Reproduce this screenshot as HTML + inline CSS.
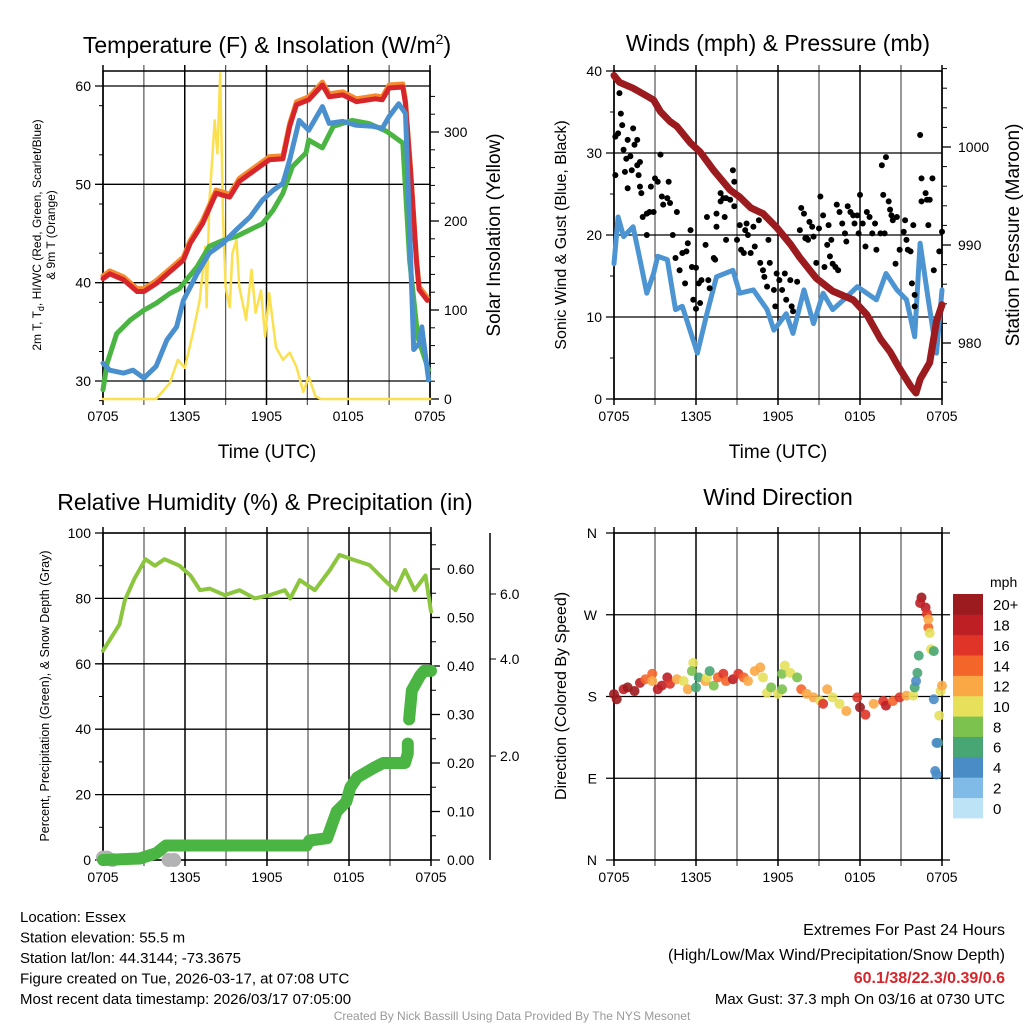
<!DOCTYPE html>
<html><head><meta charset="utf-8"><style>
html,body{margin:0;padding:0;background:#fff;}
svg{display:block;font-family:"Liberation Sans",Arial,sans-serif;}
</style></head><body>
<svg id="chart" width="1024" height="1024" viewBox="0 0 1024 1024" xmlns="http://www.w3.org/2000/svg"></svg>
<script>
// ---------- DATA ----------
const tempHours=[0,0.5,1.5,2.5,3,3.9,4.9,5.9,6.4,7.3,8.3,9.3,10,11.2,12.2,13.2,13.7,14.2,15.1,16.1,16.6,17.6,18.6,20,20.5,21,22,22.2,22.6,23,23.2,23.8];
const tempVals=[40.4,40.9,40.3,39.1,39.1,39.9,41.1,42.3,44,46,49.1,48.7,50.3,51.5,52.5,52.6,55.9,58.1,58.6,60.1,58.9,59.1,58.4,58.7,58.6,59.8,59.9,58.2,50.8,42.3,39.3,38.2];
const dewHours=[0,0.3,1,2,3,3.9,4.9,5.6,6.9,7.8,8.8,9.8,10.8,11.7,12.5,13.2,13.9,14.9,15.1,16.1,16.9,18.3,19.5,20.8,22,22.5,23.1,23.9];
const dewVals=[29.1,31.8,34.8,36.2,37.2,37.9,38.9,39.4,41.6,43.7,44.3,44.7,45.4,46,47.4,49.1,51.8,53.2,54.5,53.7,55.9,56.5,56.2,55.4,54.2,42.3,34.5,31.1];
const hiwcHours=[0,0.5,1.5,2.2,3,3.9,4.7,5.4,5.9,6.9,7.8,8.8,9.8,10.8,11.7,12.5,13.2,13.7,14.4,15.1,16.1,16.6,17.6,18.6,19.8,20.5,21,21.7,22.2,22.5,22.8,23.2,23.4,23.9];
const hiwcVals=[31.8,31.1,30.8,31.1,30.3,31.5,34.2,35.5,38.2,40.9,43,44,45.4,46.7,48.4,49.4,50.1,52.5,56.5,55.5,57.9,56.2,56.4,56,55.9,55.7,56.9,58.2,57.2,45.7,33.2,33.8,35.5,30.1];
const solarHours=[0,3.9,4.9,5.5,6,6.6,7.1,7.5,7.6,7.8,8.2,8.4,8.6,8.8,9.0,9.3,9.5,9.8,10,10.5,10.9,11.2,11.6,11.9,12.2,12.7,13.2,13.7,14.2,14.7,15.1,15.6,16,24];
const solarVals=[0,0,18,44,35,74,111,171,103,220,313,276,366,209,126,103,164,179,126,89,145,97,122,70,119,58,44,52,36,8,25,3,0,0];
const tempTicks=[30,40,50,60];
const solarTicks=[0,100,200,300];
const timeLabels=["0705","1305","1905","0105","0705"];

const windHours=[0,0.3,0.7,1.4,1.9,2.4,2.9,3.2,3.9,4.5,5,6.1,6.8,7.5,8.7,9.2,10.2,11.2,11.7,12.6,13.1,13.9,14.6,15.3,16,16.8,17.8,18.5,19.2,19.9,20.7,21.4,22,22.4,23,23.6,24];
const windVals=[16.5,22.2,19.8,21,17,12.9,15.3,17.4,17,10.9,11.3,5.6,10.4,14.9,15.7,12.9,13.3,10.9,8.4,10.4,8,13.3,9.2,12.9,10.9,12.1,13.7,12.9,12.1,15.3,13.3,12.1,7.6,19,12.1,5.6,13.3];
const presHours=[0,0.4,1.4,2.4,2.9,3.4,4.1,4.6,5.6,6.3,7.3,8.5,9.2,10,10.9,11.9,12.9,13.6,14.8,16,17.5,18.5,19.5,20.2,20.9,21.7,22.1,22.4,23.1,23.6,24];
const presVals=[1007.3,1006.6,1006,1005.2,1004.8,1003.6,1002.6,1002.1,1000.4,999.5,997.6,995.6,994.9,993.8,993.2,991.8,990.1,988.7,986.6,985.3,984.4,982.9,980.4,979.1,977.4,975.6,974.9,976.3,978,982.2,983.9];
const gustHours=[0.1,0.1,0.3,0.4,0.5,0.6,0.7,0.8,0.9,1,1.2,1,1.3,1.4,1.5,1.7,1.7,1.8,1.9,1.9,2,2.1,2.4,2.4,2.6,2.7,2.9,3,3.2,3.4,3.5,3.6,3.9,4,4.1,4.3,4.6,4.5,4.8,5,5.2,5.3,5.4,5.6,5.7,5.8,6,6,6.2,6.3,6.4,6.7,6.8,6.9,7,7.3,7.4,7.5,7.5,7.8,7.8,8,8.1,8.2,8.2,8.5,8.7,8.8,8.8,9,9.2,9.3,9.5,9.6,9.7,9.8,10,10.2,10.3,10.6,10.7,10.9,11,11.2,11.4,11.3,11.7,11.8,11.9,12.1,12.3,12.5,12.6,12.9,13,13.1,13.4,13.6,13.7,13.9,14,14.1,14.2,14.3,14.5,14.6,14.8,15,15.1,15.3,15.4,15.6,15.7,15.8,15.9,16,16.2,16.3,16.4,16.5,16.7,16.9,17,17.1,17.3,17.5,17.6,17.8,17.9,18,18.2,18.4,18.5,18.7,18.9,19.1,19.2,19.5,19.6,19.7,19.8,19.9,20.1,20.2,20.3,20.4,20.6,20.7,20.9,21.2,21.3,21.4,21.5,21.7,21.8,21.9,22,22,22.4,22.5,22.5,22.8,22.9,23,23.1,23.3,23.4,23.8,24];
const gustVals=[32,27.3,32.4,37.3,34.8,33.4,30.4,27.7,29.3,31.6,29.6,25.7,27.9,33,31,31.6,28.5,27.3,28.9,25.9,25.1,22.2,22.6,20,22.8,25.9,22.8,26.9,26.5,29.8,24.7,23.7,24.5,26.5,23.9,20,22.8,17.2,15.7,17.8,14.1,18,19,20.6,16.1,12.1,11,16,14.1,11.7,14.5,18.8,22.2,14.5,13.5,17.2,17,21,22.6,24.1,25.1,24.5,22.2,19.4,24.5,24.3,27.9,26.5,23.5,19.4,21.2,18.2,17.8,20.6,21.4,20,17.8,21,18.6,21.8,16.6,15.7,14.9,13.7,16.6,19.4,13.3,11.3,15.3,14.5,13.3,15.3,12.1,14.5,11.3,10.7,14.3,20.6,23.3,22.6,19.6,19.6,19.4,21.6,21,19.8,16.6,20.8,24.7,22.4,16.1,18.8,21.2,17.4,19.4,16.5,16.1,23.7,15.7,22.8,21.4,20.2,19.2,23.5,22.8,22.4,21.4,22.4,20.2,24.9,21.4,18.6,22.8,22.2,20.2,21.4,18.2,20.2,28.5,24.9,20.2,29.5,24.1,23.1,22.4,21.8,16.5,22.2,18.2,20.4,21.8,19.4,18.2,18,14.1,21.2,12.7,11.3,32.2,26.9,24.1,25.1,24.3,21.2,24.3,26.9,15.7,18,20.4];
const windTicks=[0,10,20,30,40];
const presTicks=[980,990,1000];

const rhHours=[0,1.2,1.6,2.3,3.1,3.8,4.5,5.6,6.4,7.1,7.8,8.9,10,11.1,12.2,13.3,13.7,14.4,15.5,16.6,17.3,18.4,19.5,20.6,21.4,22.1,22.8,23.6,24];
const rhVals=[64,72,79.5,86,92,90,92,90,87,82.5,83,81,82.5,80,81,82.5,80,85.6,82.5,88.7,93.3,91.7,90.2,85.6,82.5,88.7,82.5,87,76];
const precipHours=[0,2.7,3.9,4.6,14.9,15.1,16.4,17.1,17.8,18.1,18.6,19.8,20.5,22.1,22.3,22.3];
const precipVals=[0,0.003,0.014,0.03,0.03,0.04,0.045,0.1,0.12,0.15,0.17,0.19,0.2,0.2,0.22,0.24];
const precip2Hours=[22.4,22.5,22.6,23.2,23.5,24];
const precip2Vals=[0.29,0.32,0.35,0.38,0.39,0.39];
const snowHours=[0,0.3,0.7,4.8,5.2];
const snowVals=[0.05,0.05,0,0,0];
const pctTicks=[0,20,40,60,80,100];
const precipTicks=[0,0.1,0.2,0.3,0.4,0.5,0.6];

const dirHours=[0,0.2,0.7,1,1.5,1.9,2.3,2.8,2.8,3.2,3.5,3.9,4.1,4.6,5.1,5.4,5.8,5.7,6,6.2,6.7,6.8,7,7.3,7.6,8,8.2,8.7,9.1,9.5,9.8,10.3,10.7,10.9,11.2,11.5,12,12.3,12.3,12.5,12.9,13.4,13.7,14.1,14.6,15.1,15.3,15.6,16,16.5,17,17.8,18,18.4,19,19.7,19.9,20.4,20.9,21.4,21.9,22,22.1,22.2,22.3,22.5,22.4,22.8,22.9,23,23,23.1,23.2,23.4,23.4,23.9,24,23.8,23.7,23.6,23.5,23.6];
const dirVals=[182.6,177,188,190,186,195,199,205,197,188,192,201,194,199,197,188,217,208,190,201,197,201,208,192,201,205,197,199,205,201,197,208,212,201,184,190,183,188,205,214,206,201,188,183,179,175,172,188,179,172,164,179,168,160,172,175,170,175,179,181,181,190,197,206,225,289,283,278,271,256,265,250,232,230,177,186,192,159,129,129,98,94];
const dirSpeeds=[20,20,18,20,20,18,14,14,12,18,18,18,16,12,10,12,10,8,6,6,12,10,6,8,14,16,14,18,16,14,12,12,12,10,10,8,10,8,8,10,10,8,14,12,12,10,16,12,10,10,12,16,20,16,12,16,18,14,16,12,10,6,4,6,6,20,18,18,16,14,12,10,10,6,4,10,12,10,6,4,4,4];
const speedColors=["#bde3f7","#7fbbe6","#4a8cc6","#47a673","#7cc24e","#e6e05a","#f9a845","#f4652a","#e03428","#bd1f25","#9b1b1e"];
const speedLabels=["0","2","4","6","8","10","12","14","16","18","20+"];
const dirTicks=[0,90,180,270,360];
const dirLabels=["N","E","S","W","N"];

// ---------- HELPERS ----------
const NS="http://www.w3.org/2000/svg";
const svg=document.getElementById("chart");
function mk(tag,attrs,parent){const e=document.createElementNS(NS,tag);for(const k in attrs)e.setAttribute(k,attrs[k]);(parent||svg).appendChild(e);return e;}
function txt(s,x,y,size,anchor,parent,extra){const t=mk("text",Object.assign({x:x,y:y,"font-size":size,"text-anchor":anchor||"middle",fill:"#000"},extra||{}),parent);t.textContent=s;return t;}
function lin(d0,d1,r0,r1){return v=>r0+(v-d0)*(r1-r0)/(d1-d0);}
function poly(xs,ys,fx,fy,stroke,w,parent){let d="";for(let i=0;i<xs.length;i++)d+=(i?"L":"M")+fx(xs[i]).toFixed(1)+","+fy(ys[i]).toFixed(1);return mk("path",{d:d,fill:"none",stroke:stroke,"stroke-width":w,"stroke-linejoin":"round","stroke-linecap":"round"},parent);}
function frame(g,x0,x1,y0,y1){
  for(let i=0;i<=8;i++){const x=x0+(x1-x0)*i/8;mk("line",{x1:x,x2:x,y1:y0-6,y2:y1+6,stroke:i%2?"#555":"#000","stroke-width":i%2?1.2:1.5},g);}
  mk("rect",{x:x0,y:y0,width:x1-x0,height:y1-y0,fill:"none",stroke:"#000","stroke-width":1.5},g);
  timeLabels.forEach((l,i)=>{txt(l,x0+(x1-x0)*i/4,y1+22,14,"middle",g);});
}

// ---------- PANEL 1: Temperature ----------
(function(){
const g=mk("g",{});


const x0=103,x1=430,y0=71,y1=399;
const fx=lin(0,24,x0,x1), fy=lin(30,60,381,86), fs=lin(0,300,399,132);
frame(g,x0,x1,y0,y1);
tempTicks.forEach(v=>{mk("line",{x1:x0-8,x2:x1,y1:fy(v),y2:fy(v),stroke:"#000","stroke-width":1.3},g);txt(String(v),x0-12,fy(v)+5,14,"end",g);});
for(let v=28;v<=61;v+=5){if(v%10)mk("line",{x1:x0-4,x2:x0,y1:fy(v),y2:fy(v),stroke:"#000"},g);}
solarTicks.forEach(v=>{mk("line",{x1:x1,x2:x1+9,y1:fs(v),y2:fs(v),stroke:"#000","stroke-width":1.3},g);txt(String(v),x1+14,fs(v)+5,14,"start",g);});
for(let v=20;v<360;v+=20){if(v%100)mk("line",{x1:x1,x2:x1+5,y1:fs(v),y2:fs(v),stroke:"#000"},g);}
const s=poly(solarHours,solarVals,fx,fs,"#fbe04f",2.5,g);


const dw=poly(dewHours,dewVals,fx,fy,"#4bb543",5,g);


const orVals=tempVals.map(v=>v+0.3);
const o=poly(tempHours,orVals,fx,fy,"#f58a2e",5,g);


const r=poly(tempHours,tempVals,fx,fy,"#d7262b",5,g);


const b=poly(hiwcHours,hiwcVals,fx,fy,"#4a90cf",5,g);


const t=txt("",267,53,23,"middle",g);t.innerHTML='Temperature (F) &amp; Insolation (W/m<tspan dy="-9" font-size="14">2</tspan><tspan dy="9">)</tspan>';


const xl=txt("Time (UTC)",267,458,19,"middle",g);


const yl=txt("",0,0,12,"middle",g,{transform:"translate(41,235) rotate(-90)"});
yl.innerHTML='2m T, T<tspan dy="3" font-size="9">d</tspan><tspan dy="-3">, HI/WC (Red, Green, Scarlet/Blue)</tspan>';


const yl2=txt("& 9m T (Orange)",0,0,12,"middle",g,{transform:"translate(55,235) rotate(-90)"});


const yr=txt("Solar Insolation (Yellow)",0,0,19,"middle",g,{transform:"translate(500,235) rotate(-90)"});


})();

// ---------- PANEL 2: Winds ----------
(function(){
const g=mk("g",{});


const x0=614,x1=942,y0=71,y1=399;
const fx=lin(0,24,x0,x1), fy=lin(0,40,399,71), fp=lin(990,1000,245,147);
frame(g,x0,x1,y0,y1);
windTicks.forEach(v=>{mk("line",{x1:x0-8,x2:x1,y1:fy(v),y2:fy(v),stroke:"#000","stroke-width":1.3},g);txt(String(v),x0-12,fy(v)+5,14,"end",g);});
for(let v=5;v<40;v+=10)mk("line",{x1:x0-4,x2:x0,y1:fy(v),y2:fy(v),stroke:"#000"},g);
presTicks.forEach(v=>{mk("line",{x1:x1,x2:x1+9,y1:fp(v),y2:fp(v),stroke:"#000","stroke-width":1.3},g);txt(String(v),x1+16,fp(v)+5,14,"start",g);});
for(let v=976;v<=1008;v+=2){if(v%10)mk("line",{x1:x1,x2:x1+5,y1:fp(v),y2:fp(v),stroke:"#000"},g);}
const w=poly(windHours,windVals,fx,fy,"#4d94d2",5,g);


gustHours.forEach((h,i)=>{const c=mk("circle",{cx:fx(h),cy:fy(gustVals[i]),r:3,fill:"#000"},g);

});
const p=poly(presHours,presVals,fx,fp,"#9b1b1e",7,g);


const t=txt("Winds (mph) & Pressure (mb)",778,51,23,"middle",g);


const xl=txt("Time (UTC)",778,458,19,"middle",g);


const yl=txt("Sonic Wind & Gust (Blue, Black)",0,0,16,"middle",g,{transform:"translate(566,235) rotate(-90)"});


const yr=txt("Station Pressure (Maroon)",0,0,19,"middle",g,{transform:"translate(1019,235) rotate(-90)"});


})();

// ---------- PANEL 3: RH & Precip ----------
(function(){
const g=mk("g",{});


const x0=103,x1=431,y0=533,y1=860;
const fx=lin(0,24,x0,x1), fy=lin(0,100,860,533), fpr=lin(0,0.5,860,617.5);
frame(g,x0,x1,y0,y1);
pctTicks.forEach(v=>{mk("line",{x1:x0-8,x2:x1,y1:fy(v),y2:fy(v),stroke:"#000","stroke-width":1.3},g);txt(String(v),x0-12,fy(v)+5,14,"end",g);});
for(let v=10;v<100;v+=20)mk("line",{x1:x0-4,x2:x0,y1:fy(v),y2:fy(v),stroke:"#000"},g);
precipTicks.forEach(v=>{mk("line",{x1:x1,x2:x1+9,y1:fpr(v),y2:fpr(v),stroke:"#000","stroke-width":1.3},g);txt(v.toFixed(2),x1+16,fpr(v)+5,14,"start",g);});
for(let v=0.05;v<0.68;v+=0.1)mk("line",{x1:x1,x2:x1+5,y1:fpr(v),y2:fpr(v),stroke:"#000"},g);
mk("line",{x1:490,x2:490,y1:533,y2:860,stroke:"#000","stroke-width":1.5},g);
[["2.0",761],["4.0",664],["6.0",599]].forEach(a=>{mk("line",{x1:490,x2:496,y1:a[1]-5,y2:a[1]-5,stroke:"#000"},g);txt(a[0],500,a[1],14,"start",g);});
snowHours.forEach((h,i)=>{const c=mk("circle",{cx:fx(h),cy:fpr(snowVals[i]*0.1),r:7,fill:"#b3b3b3"},g);

});
const pl=poly(precipHours,precipVals,fx,fpr,"#4bb543",12,g);


const pl2=poly(precip2Hours,precip2Vals,fx,fpr,"#4bb543",12,g);


const rh=poly(rhHours,rhVals,fx,fy,"#8cc63f",4,g);


const t=txt("Relative Humidity (%) & Precipitation (in)",265,510,23,"middle",g);


const yl=txt("Percent, Precipitation (Green), & Snow Depth (Gray)",0,0,12.5,"middle",g,{transform:"translate(49,696) rotate(-90)"});


})();

// ---------- PANEL 4: Wind Direction ----------
(function(){
const g=mk("g",{});


const x0=614,x1=942,y0=533,y1=860;
const fx=lin(0,24,x0,x1), fy=lin(0,360,860,533);
frame(g,x0,x1,y0,y1);
dirTicks.forEach((v,i)=>{mk("line",{x1:x0-8,x2:x1+8,y1:fy(v),y2:fy(v),stroke:"#000","stroke-width":1.3},g);txt(dirLabels[i],x0-17,fy(v)+5,14,"end",g);});
dirHours.forEach((h,i)=>{const k=Math.max(0,Math.min(10,Math.floor(dirSpeeds[i]/2)));
const c=mk("circle",{cx:fx(h),cy:fy(dirVals[i]),r:5,fill:speedColors[k],"fill-opacity":0.9},g);

});
const t=txt("Wind Direction",778,505,23,"middle",g);


const yl=txt("Direction (Colored By Speed)",0,0,16,"middle",g,{transform:"translate(566,696) rotate(-90)"});


const cb=mk("g",{},g);


const bh=224/11;
for(let i=0;i<11;i++){const y=594+(10-i)*bh;mk("rect",{x:953,y:y,width:30,height:bh+0.4,fill:speedColors[i]},cb);txt(speedLabels[i],993,y+bh/2+6,15,"start",cb);}
txt("mph",990,587,14,"start",cb);
})();

// ---------- FOOTER ----------
(function(){
const g=mk("g",{});


["Location: Essex","Station elevation: 55.5 m","Station lat/lon: 44.3144; -73.3675","Figure created on Tue, 2026-03-17, at 07:08 UTC","Most recent data timestamp: 2026/03/17 07:05:00"].forEach((s,i)=>txt(s,20,922+i*20.5,15,"start",g));
const e=mk("g",{});


txt("Extremes For Past 24 Hours",1005,935,16,"end",e);
txt("(High/Low/Max Wind/Precipitation/Snow Depth)",1005,960,16,"end",e);
txt("60.1/38/22.3/0.39/0.6",1005,983,16,"end",e,{fill:"#d7262b","font-weight":"bold"});
txt("Max Gust: 37.3 mph On 03/16 at 0730 UTC",1005,1004,15,"end",e);
const c=txt("Created By Nick Bassill Using Data Provided By The NYS Mesonet",512,1020,12,"middle",null,{fill:"#999"});


})();
</script>
</body></html>
